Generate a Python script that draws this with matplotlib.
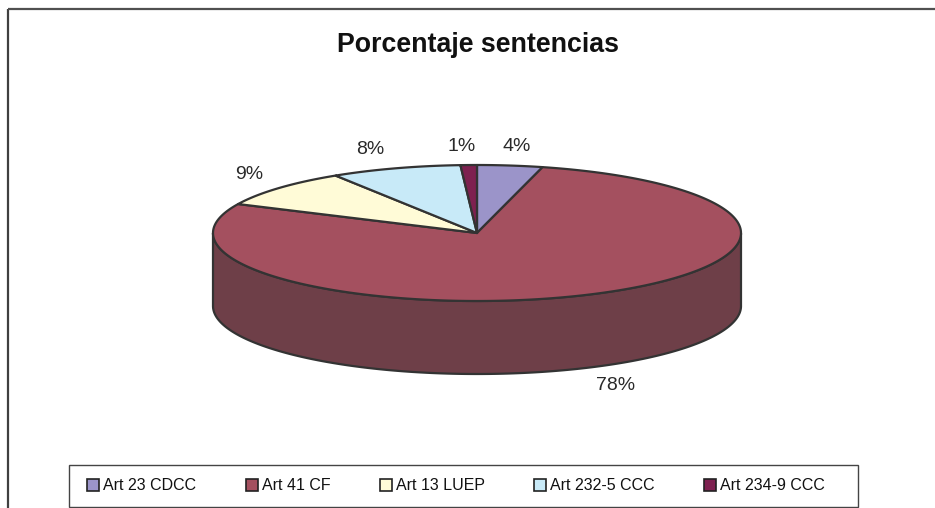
import numpy as np
import matplotlib.pyplot as plt
from matplotlib.patches import Polygon, Patch, Rectangle

# data
labels = ['Art 23 CDCC', 'Art 41 CF', 'Art 13 LUEP', 'Art 232-5 CCC', 'Art 234-9 CCC']
values = [4, 78, 9, 8, 1]
top_colors = ['#9B94C9', '#A4505F', '#FFFBD7', '#C8EAF8', '#7E2150']
side_colors = ['#625C88', '#6E3F48', '#B0AC90', '#8AA3AD', '#561637']

plt.rcParams['font.family'] = ['Liberation Sans', 'DejaVu Sans']

fig = plt.figure(figsize=(9.35, 5.08), dpi=100)
ax = fig.add_axes([0, 0, 1, 1])
ax.set_xlim(0, 935)
ax.set_ylim(508, 0)
ax.axis('off')

# pie geometry (pixels)
cx, cy = 477, 233
rx, ry = 264, 68
depth = 73
edge = '#333333'

# chart frame
ax.plot([8, 8], [508, 9], color='#404040', lw=1.6, solid_capstyle='butt')
ax.plot([8, 935], [9, 9], color='#505050', lw=1.6, solid_capstyle='butt')

ax.text(478, 45, 'Porcentaje sentencias', ha='center', va='center',
        fontsize=19.3, fontweight='bold', color='#111111')

total = float(sum(values))
fracs = np.array(values) / total
starts = 90 - 360 * np.concatenate([[0], np.cumsum(fracs)[:-1]])
ends = starts - 360 * fracs

# side walls (front half only)
for s, e, col in zip(starts, ends, side_colors):
    tr = np.radians(np.linspace(s, e, 400))
    front = np.sin(tr) < 0
    if not front.any():
        continue
    tt = tr[front]
    xs = cx + rx * np.cos(tt)
    ys = cy - ry * np.sin(tt)
    pts = np.column_stack([np.concatenate([xs, xs[::-1]]),
                           np.concatenate([ys, ys[::-1] + depth])])
    ax.add_patch(Polygon(pts, closed=True, facecolor=col, edgecolor=edge,
                         lw=1.6, joinstyle='round'))

# top faces
for s, e, col in zip(starts, ends, top_colors):
    tr = np.radians(np.linspace(s, e, 300))
    xs = cx + rx * np.cos(tr)
    ys = cy - ry * np.sin(tr)
    pts = np.vstack([[cx, cy], np.column_stack([xs, ys])])
    ax.add_patch(Polygon(pts, closed=True, facecolor=col, edgecolor=edge,
                         lw=1.6, joinstyle='round'))

# percentage labels (small per-label nudges like Excel does)
nudge_x = [0, 4, 10, -9, -5]
nudge_y = [-2, 3, -2, -3, -2]
for s, e, v, dx, dy in zip(starts, ends, values, nudge_x, nudge_y):
    m = np.radians((s + e) / 2)
    lx = cx + rx * 1.2 * np.cos(m) + dx
    ly = cy - ry * 1.25 * np.sin(m) + dy
    if np.sin(m) < 0:
        ly += depth
    ax.text(lx, ly, f'{v}%', ha='center', va='center', fontsize=14,
            color='#2a2a2a')

# legend box
ax.add_patch(Rectangle((69, 465), 789, 42, facecolor='white',
                       edgecolor='#444444', lw=1.0))
handles = [Patch(facecolor=c, edgecolor='#222222', lw=1.2) for c in top_colors]
leg = ax.legend(handles, labels, ncol=5, loc='center',
                bbox_to_anchor=(456 / 935, 1 - 486 / 508),
                bbox_transform=fig.transFigure,
                prop={'size': 11.5},
                frameon=False,
                handlelength=0.75, handleheight=0.75, handletextpad=0.25,
                columnspacing=3.1, borderpad=0.5)
for t in leg.get_texts():
    t.set_color('#111111')

fig.savefig('out.png', dpi=100)
